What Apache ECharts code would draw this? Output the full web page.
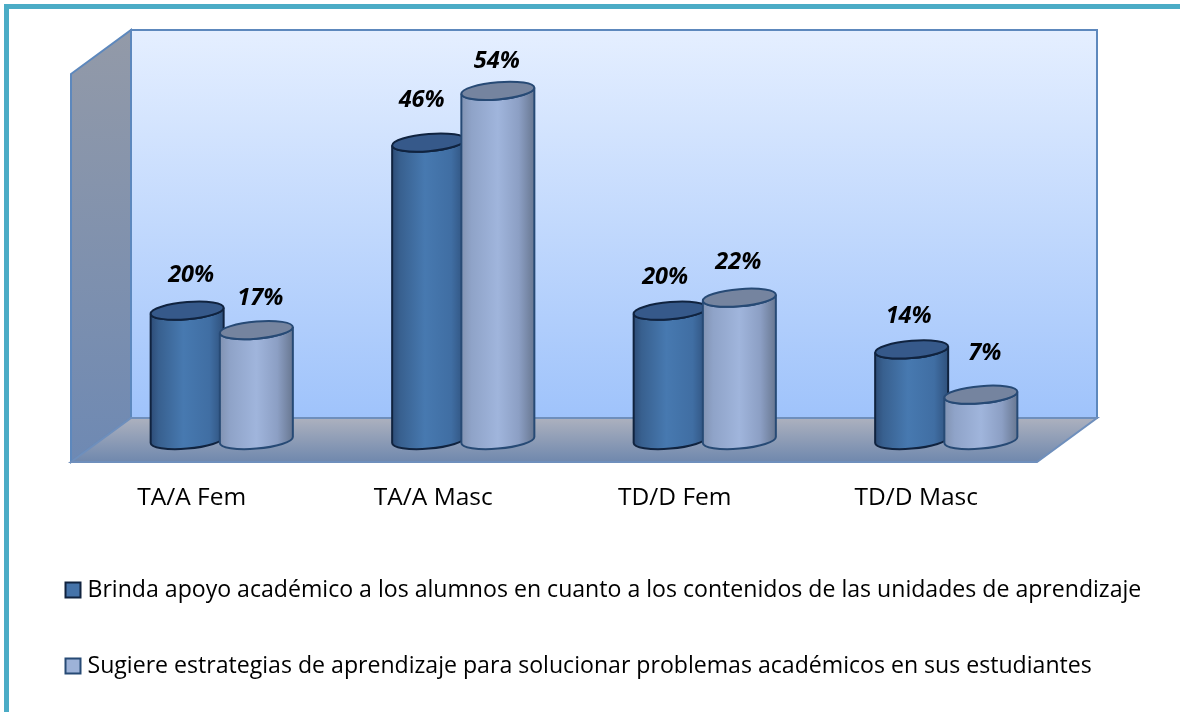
<!DOCTYPE html>
<html>
<head>
<meta charset="utf-8">
<style>html,body{margin:0;padding:0;background:#fff}#c{width:1180px;height:712px}</style>
<script src="https://cdn.jsdelivr.net/npm/echarts@6/dist/echarts.min.js"></script>
</head>
<body>
<div id="c"></div>
<script>
const categories = ['TA/A Fem', 'TA/A Masc', 'TD/D Fem', 'TD/D Masc'];
const seriesNames = [
  'Brinda apoyo académico a los alumnos en cuanto a los contenidos de las unidades de aprendizaje',
  'Sugiere estrategias de aprendizaje para solucionar problemas académicos en sus estudiantes'
];
const apoyoValues = [20, 46, 20, 14];
const estrategiasValues = [17, 54, 22, 7];
const apoyoLabelNudge = [[4, -2], [-7, -9], [-5, 0], [-3, 0]];
const estrategiasLabelNudge = [[4, 1], [-1, 4], [-1, -2], [4, -8]];

const DEPTH_X = 30, DEPTH_Y = 22;      // half the depth of the 3D box
const BAR_OFFSET = 34.6, RX = 36.5, RY = 8.6, TILT = 3;
const K = 0.5523;

function ell(cx, cy) { return (u, v) => [cx + RX * u, cy + RY * v - TILT * u]; }
function curve(p, a, b, c) {
  const A = p(a[0], a[1]), B = p(b[0], b[1]), C = p(c[0], c[1]);
  return `C${A[0]} ${A[1]} ${B[0]} ${B[1]} ${C[0]} ${C[1]}`;
}
function fullEllipse(p) {
  const s = p(-1, 0);
  return `M${s[0]} ${s[1]}` +
    curve(p, [-1, -K], [-K, -1], [0, -1]) + curve(p, [K, -1], [1, -K], [1, 0]) +
    curve(p, [1, K], [K, 1], [0, 1]) + curve(p, [-K, 1], [-1, K], [-1, 0]) + 'Z';
}
function bodyPath(t, b) {
  const tl = t(-1, 0), bl = b(-1, 0);
  return `M${tl[0]} ${tl[1]}L${bl[0]} ${bl[1]}` +
    curve(b, [-1, K], [-K, 1], [0, 1]) + curve(b, [K, 1], [1, K], [1, 0]) +
    `L${t(1, 0)[0]} ${t(1, 0)[1]}` +
    curve(t, [1, K], [K, 1], [0, 1]) + curve(t, [-K, 1], [-1, K], [-1, 0]) + 'Z';
}
function grad(stops) {
  return { type: 'linear', x: 0, y: 0, x2: 1, y2: 0,
    colorStops: stops.map(s => ({ offset: s[0], color: s[1] })) };
}
function gradV(c0, c1) {
  return { type: 'linear', x: 0, y: 0, x2: 0, y2: 1,
    colorStops: [{ offset: 0, color: c0 }, { offset: 1, color: c1 }] };
}

function cylinder(side, look, nudges) {
  return function (params, api) {
    const i = api.value(0), v = api.value(1);
    const top = api.coord([i, v]), base = api.coord([i, 0]);
    const cx = top[0] + DEPTH_X + side * BAR_OFFSET;
    const t = ell(cx, top[1] - DEPTH_Y), b = ell(cx, base[1] - DEPTH_Y);
    const n = nudges[params.dataIndex];
    return {
      type: 'group',
      children: [
        { type: 'path', shape: { pathData: bodyPath(t, b) },
          style: { fill: look.body, stroke: look.edge, lineWidth: look.lw } },
        { type: 'path', shape: { pathData: fullEllipse(t) },
          style: { fill: look.cap, stroke: look.edge, lineWidth: look.lw } },
        { type: 'text', x: cx + n[0], y: top[1] - DEPTH_Y - 33 + n[1],
          style: { text: v + '%', font: 'italic bold 23.5px "Open Sans", sans-serif',
            fill: '#000', align: 'center', verticalAlign: 'middle' } }
      ]
    };
  };
}

const darkLook = {
  body: grad([[0, '#2c4a74'], [0.12, '#38608f'], [0.45, '#4779b0'], [0.8, '#406ea3'], [1, '#2e4f7a']]),
  cap: '#36598a', edge: '#10233f', lw: 2
};
const lightLook = {
  body: grad([[0, '#8091b0'], [0.15, '#8fa3c8'], [0.5, '#a0b5dc'], [0.78, '#8c9fc4'], [1, '#66758e']]),
  cap: '#75849f', edge: '#274a75', lw: 2
};

const chart = echarts.init(document.getElementById('c'));
chart.setOption({
  animation: false,
  backgroundColor: '#fff',
  grid: { left: 71, top: 74, width: 966, height: 388, containLabel: false },
  graphic: [{
    type: 'rect', z: 0, silent: true,
    shape: { x: 6.5, y: 6.5, width: 1200, height: 800 },
    style: { fill: 'none', stroke: '#4bacc6', lineWidth: 5 }
  }],
  xAxis: {
    type: 'category', data: categories,
    axisLine: { show: false }, axisTick: { show: false },
    axisLabel: { color: '#000', fontFamily: '"Open Sans", sans-serif', fontSize: 24.5, margin: 24 }
  },
  yAxis: { type: 'value', min: 0, max: 60, interval: 10, show: false },
  legend: {
    left: 64.5, top: 575, padding: 0, orient: 'vertical', itemGap: 46,
    itemWidth: 15, itemHeight: 15,
    textStyle: { color: '#000', fontFamily: '"Open Sans", sans-serif', fontSize: 23.1, lineHeight: 30, padding: [0, 0, 0, 2] },
    data: [
      { name: seriesNames[0], icon: 'rect', itemStyle: { color: '#4573a9', borderColor: '#10233f', borderWidth: 2 } },
      { name: seriesNames[1], icon: 'rect', itemStyle: { color: '#9db2d8', borderColor: '#274a75', borderWidth: 2 } }
    ]
  },
  series: [
    {
      type: 'custom', coordinateSystem: 'cartesian2d', silent: true, z: 1,
      data: [[0, 0]], legendHoverLink: false,
      renderItem(params, api) {
        const cs = params.coordSys;
        const L = cs.x, R = cs.x + cs.width, T = cs.y, B = cs.y + cs.height;
        const dx = 2 * DEPTH_X, dy = 2 * DEPTH_Y;
        const border = '#5d88bd';
        return { type: 'group', children: [
          { type: 'rect', shape: { x: L + dx, y: T - dy, width: cs.width, height: cs.height },
            style: { fill: gradV('#e5efff', '#9fc3fb'), stroke: border, lineWidth: 2 } },
          { type: 'polygon', shape: { points: [[L, T], [L + dx, T - dy], [L + dx, B - dy], [L, B]] },
            style: { fill: gradV('#939aa8', '#6e89b3'), stroke: border, lineWidth: 2 } },
          { type: 'polygon', shape: { points: [[L, B], [L + dx, B - dy], [R + dx, B - dy], [R, B]] },
            style: { fill: gradV('#aeb2bf', '#6e87ad'), stroke: '#6f8fbc', lineWidth: 2 } }
        ] };
      }
    },
    {
      name: seriesNames[0], type: 'custom', coordinateSystem: 'cartesian2d', silent: true, z: 2,
      itemStyle: { color: '#4573a9' },
      data: apoyoValues.map((v, i) => [i, v]),
      renderItem: cylinder(-1, darkLook, apoyoLabelNudge)
    },
    {
      name: seriesNames[1], type: 'custom', coordinateSystem: 'cartesian2d', silent: true, z: 3,
      itemStyle: { color: '#9db2d8' },
      data: estrategiasValues.map((v, i) => [i, v]),
      renderItem: cylinder(1, lightLook, estrategiasLabelNudge)
    }
  ]
});
</script>
</body>
</html>
